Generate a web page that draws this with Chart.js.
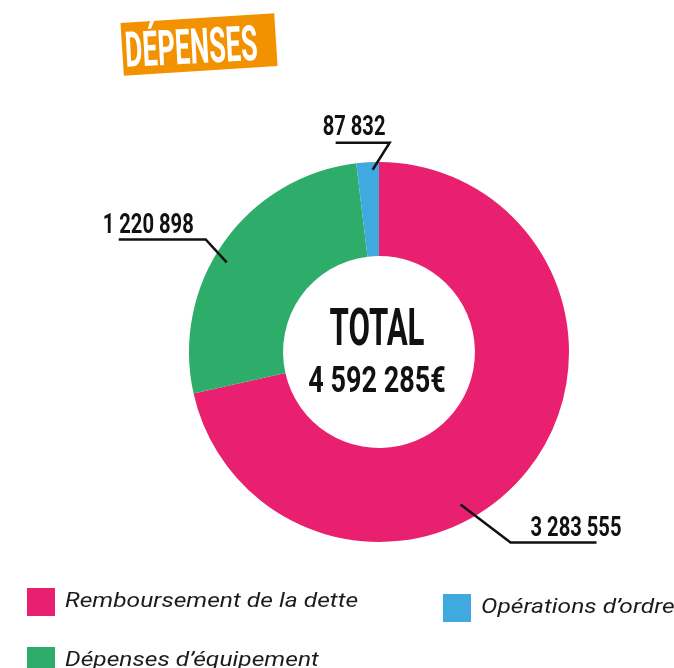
<!DOCTYPE html>
<html>
<head>
<meta charset="utf-8">
<script src="https://cdn.jsdelivr.net/npm/chart.js@4.4.1/dist/chart.umd.min.js"></script>
<style>
  html, body { margin: 0; padding: 0; background: #ffffff; overflow: hidden; }
  #wrap { position: absolute; left: 0; top: 0; width: 674px; height: 668px; }
</style>
</head>
<body>
<div id="wrap"><canvas id="c" width="674" height="668"></canvas></div>
<script>
// ---- Data ----
const categories = ['Remboursement de la dette', 'Dépenses d\u2019équipement', 'Opérations d\u2019ordre'];
const values = [3283555, 1220898, 87832];
const colors = ['#E8206F', '#2EAD6A', '#40A9E0'];
const titleText = 'DÉPENSES';
const totalLabel = 'TOTAL';

function fmt(n) { return String(n).replace(/\B(?=(\d{3})+(?!\d))/g, ' '); }
const total = values.reduce((a, b) => a + b, 0);

// ---- Helpers ----
function condensedText(ctx, text, x, y, font, sx, align, color) {
  ctx.save();
  ctx.font = font;
  ctx.fillStyle = color;
  ctx.textBaseline = 'alphabetic';
  ctx.textAlign = 'left';
  const w = ctx.measureText(text).width * sx;
  let left = x;
  if (align === 'center') left = x - w / 2;
  else if (align === 'right') left = x - w;
  ctx.translate(left, y);
  ctx.scale(sx, 1);
  ctx.fillText(text, 0, 0);
  ctx.restore();
}

// Leader-line layout (styling only; anchors come from the arcs)
const leaderCfg = [
  { frac: 0.59, rf: 0.91, edx: 50, edy: 38, hlen: 86, tdx: 20, tdy: -6 },
  { frac: 0.45, rf: 0.93, edx: -21, edy: -23, hlen: -87, tdx: -103, tdy: -6 },
  { frac: 0.71, rf: 0.96, edx: 17, edy: -27, hlen: -54, tdx: -67, tdy: -8 }
];
const legendPos = [
  { x: 27, y: 588 },
  { x: 27, y: 647 },
  { x: 443, y: 594 }
];

const decorPlugin = {
  id: 'decor',
  afterDraw(chart) {
    const ctx = chart.ctx;
    const meta = chart.getDatasetMeta(0);
    const ds = chart.data.datasets[0];

    // Leader lines + value labels
    meta.data.forEach((arc, i) => {
      const p = arc.getProps(['x', 'y', 'startAngle', 'endAngle', 'outerRadius'], true);
      const c = leaderCfg[i];
      const a = p.startAngle + c.frac * (p.endAngle - p.startAngle);
      const r = p.outerRadius * c.rf;
      const ax = p.x + r * Math.cos(a);
      const ay = p.y + r * Math.sin(a);
      const ex = ax + c.edx, ey = ay + c.edy;
      ctx.save();
      ctx.strokeStyle = '#111111';
      ctx.lineWidth = 2.5;
      ctx.lineJoin = 'miter';
      ctx.beginPath();
      ctx.moveTo(ax, ay);
      ctx.lineTo(ex, ey);
      ctx.lineTo(ex + c.hlen, ey);
      ctx.stroke();
      ctx.restore();
      condensedText(ctx, fmt(ds.data[i]), ex + c.tdx, ey + c.tdy, 'bold 28px Roboto', 0.72, 'left', '#111111');
    });

    // Centre total
    const a0 = meta.data[0];
    const cx = a0.x - 2, cy = a0.y;
    condensedText(ctx, totalLabel, cx, cy - 7, 'bold 52px Roboto', 0.6, 'center', '#111111');
    condensedText(ctx, fmt(total) + '€', cx, cy + 40, 'bold 36px Roboto', 0.75, 'center', '#111111');

    // Title badge
    ctx.save();
    ctx.translate(199, 44);
    ctx.rotate(-3.6 * Math.PI / 180);
    ctx.fillStyle = '#F39200';
    ctx.fillRect(-77, -26, 154, 53);
    ctx.restore();
    ctx.save();
    ctx.translate(199, 44);
    ctx.rotate(-3.0 * Math.PI / 180);
    condensedText(ctx, titleText, -8, 19, 'bold 49px Roboto', 0.55, 'center', '#ffffff');
    ctx.restore();

    // Legend
    chart.data.labels.forEach((lab, i) => {
      const lp = legendPos[i];
      ctx.save();
      ctx.fillStyle = ds.backgroundColor[i];
      ctx.fillRect(lp.x, lp.y, 28, 28);
      ctx.restore();
      condensedText(ctx, lab, lp.x + 38, lp.y + 19, 'italic 21px Roboto', 1.17, 'left', '#1c1c1c');
    });
  }
};

new Chart(document.getElementById('c'), {
  type: 'doughnut',
  data: {
    labels: categories,
    datasets: [{
      data: values,
      backgroundColor: colors,
      borderWidth: 0,
      hoverOffset: 0
    }]
  },
  options: {
    responsive: false,
    animation: false,
    cutout: '50.5%',
    rotation: 0,
    layout: { padding: { left: 189, right: 105, top: 162, bottom: 126 } },
    plugins: {
      legend: { display: false },
      tooltip: { enabled: false },
      title: { display: false }
    },
    events: []
  },
  plugins: [decorPlugin]
});
</script>
</body>
</html>
